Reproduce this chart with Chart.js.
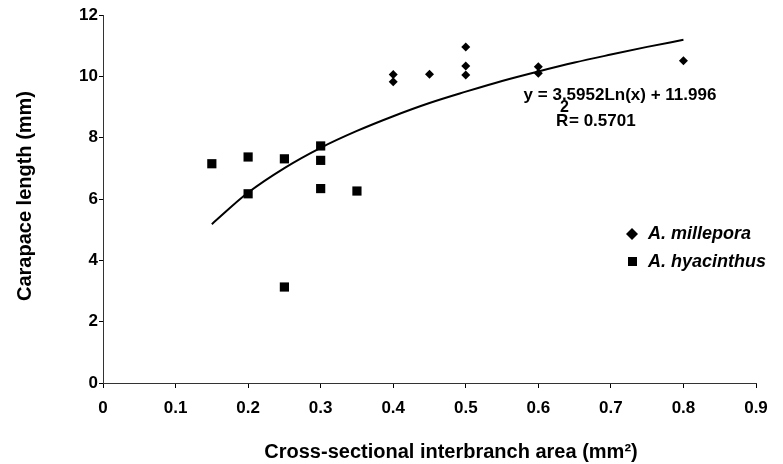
<!DOCTYPE html>
<html>
<head>
<meta charset="utf-8">
<script src="https://cdn.jsdelivr.net/npm/chart.js"></script>
<style>
  body { margin: 0; background: #fff; }
  #grafico { display: block; }
</style>
</head>
<body>
<canvas id="grafico" width="783" height="464"></canvas>
<script>
// A. millepora (losangos)
const milleporaX = [0.4, 0.4, 0.45, 0.5, 0.5, 0.5, 0.6, 0.6, 0.8];
const milleporaY = [10.06, 9.82, 10.07, 10.96, 10.34, 10.04, 10.31, 10.1, 10.51];

// A. hyacinthus (quadrados)
const hyacinthusX = [0.15, 0.2, 0.2, 0.25, 0.25, 0.3, 0.3, 0.3, 0.35];
const hyacinthusY = [7.15, 7.37, 6.17, 7.31, 3.13, 7.73, 7.26, 6.34, 6.26];

// curva de tendência
const tendenciaX = [0.15, 0.2, 0.25, 0.3, 0.35, 0.4, 0.45, 0.5, 0.55, 0.6, 0.65, 0.7, 0.75, 0.8];
const tendenciaY = [5.18, 6.21, 7.01, 7.67, 8.22, 8.70, 9.13, 9.50, 9.85, 10.16, 10.45, 10.71, 10.96, 11.19];

// ticks
const xTicks = ['0', '0.1', '0.2', '0.3', '0.4', '0.5', '0.6', '0.7', '0.8', '0.9'];
const yTicks = ['0', '2', '4', '6', '8', '10', '12'];

const equacao = 'y = 3.5952Ln(x) + 11.996';
const r2 = '= 0.5701';
const legendas = ['A. millepora', 'A. hyacinthus'];
const tituloX = 'Cross-sectional interbranch area (mm\u00B2)';
const tituloY = 'Carapace length (mm)';

const fonte = '"Liberation Sans", Arial, Helvetica, sans-serif';

function pontos(xs, ys) {
    return xs.map((x, i) => ({ x: x, y: ys[i] }));
}

// textos extras: equação, legenda e títulos dos eixos
const textos = {
    id: 'textos',
    afterDraw(chart) {
        const ctx = chart.ctx;
        ctx.save();
        ctx.fillStyle = '#000';
        ctx.textBaseline = 'middle';

        // equação
        ctx.font = 'bold 17px ' + fonte;
        ctx.textAlign = 'center';
        ctx.fillText(equacao, 620, 95);
        ctx.textAlign = 'left';
        ctx.fillText('R', 556, 121);
        ctx.font = 'bold 16px ' + fonte;
        ctx.fillText('2', 560, 108);
        ctx.font = 'bold 17px ' + fonte;
        ctx.fillText(r2, 569, 121);

        // legenda
        ctx.beginPath();
        ctx.moveTo(632, 228);
        ctx.lineTo(638, 234);
        ctx.lineTo(632, 240);
        ctx.lineTo(626, 234);
        ctx.closePath();
        ctx.fill();
        ctx.fillRect(628, 257, 9, 9);
        ctx.font = 'italic bold 18px ' + fonte;
        ctx.fillText(legendas[0], 648, 234);
        ctx.fillText(legendas[1], 648, 262);

        // títulos dos eixos
        ctx.font = 'bold 20px ' + fonte;
        ctx.textAlign = 'center';
        ctx.fillText(tituloX, 451, 452);
        ctx.translate(25, 196);
        ctx.rotate(-Math.PI / 2);
        ctx.fillText(tituloY, 0, 0);
        ctx.restore();
    }
};

const ctx = document.querySelector('#grafico');

new Chart(ctx, {
    type: 'scatter',
    data: {
        datasets: [
            {
                label: legendas[0],
                data: pontos(milleporaX, milleporaY),
                pointStyle: 'rectRot',
                pointRadius: 4.5,
                pointBorderWidth: 0,
                backgroundColor: '#000',
                borderColor: '#000'
            },
            {
                label: legendas[1],
                data: pontos(hyacinthusX, hyacinthusY),
                pointStyle: 'rect',
                pointRadius: 6.5,
                pointBorderWidth: 0,
                backgroundColor: '#000',
                borderColor: '#000'
            },
            {
                type: 'line',
                label: 'tendência',
                data: pontos(tendenciaX, tendenciaY),
                showLine: true,
                pointRadius: 0,
                borderWidth: 2,
                borderColor: '#000',
                tension: 0.4,
                cubicInterpolationMode: 'monotone'
            }
        ]
    },
    options: {
        responsive: false,
        animation: false,
        layout: {
            padding: { left: 0, right: 27, top: 15, bottom: 0 }
        },
        plugins: {
            legend: { display: false },
            tooltip: { enabled: false }
        },
        scales: {
            x: {
                type: 'linear',
                min: 0,
                max: 0.9,
                afterFit(scale) { scale.height = 81; },
                afterBuildTicks(scale) {
                    scale.ticks = xTicks.map(v => ({ value: parseFloat(v) }));
                },
                ticks: {
                    color: '#000',
                    padding: 10,
                    maxRotation: 0,
                    font: { family: fonte, size: 17, weight: 'bold' },
                    callback: (v, i) => xTicks[i]
                },
                grid: {
                    drawOnChartArea: false,
                    drawTicks: true,
                    tickLength: 5,
                    color: '#000'
                },
                border: { color: '#333', width: 1 }
            },
            y: {
                type: 'linear',
                min: 0,
                max: 12,
                afterFit(scale) { scale.width = 103; },
                afterBuildTicks(scale) {
                    scale.ticks = yTicks.map(v => ({ value: parseFloat(v) }));
                },
                ticks: {
                    color: '#000',
                    padding: 1,
                    font: { family: fonte, size: 17, weight: 'bold' },
                    callback: (v, i) => yTicks[i]
                },
                grid: {
                    drawOnChartArea: false,
                    drawTicks: true,
                    tickLength: 4,
                    color: '#000'
                },
                border: { color: '#333', width: 1 }
            }
        }
    },
    plugins: [textos]
});
</script>
</body>
</html>
